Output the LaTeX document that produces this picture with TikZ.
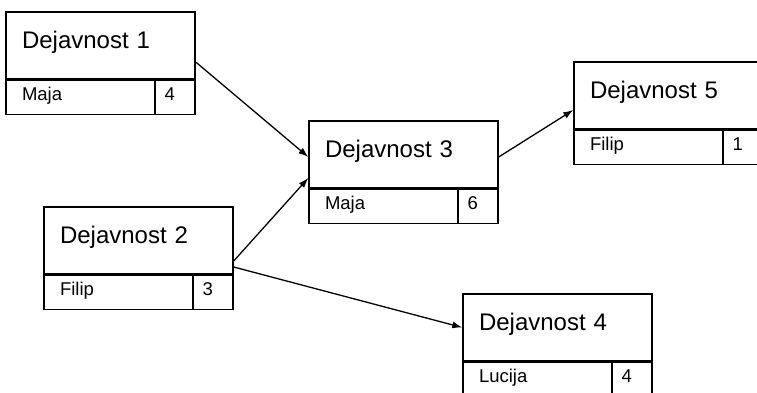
\documentclass[tikz,border=0pt]{standalone}
\usepackage{fontspec}
\setmainfont{Liberation Sans}
\usetikzlibrary{arrows.meta}
\begin{document}
\begin{tikzpicture}[x=1pt,y=-1pt,
  hdr/.style={draw,line width=1.4pt,minimum height=67pt,inner xsep=16pt,inner ysep=0pt,
    text width=157pt,align=left,font=\fontsize{24}{27}\selectfont,text height=0.8em,text depth=0.25em},
  who/.style={draw,line width=1.4pt,minimum height=34pt,inner xsep=16pt,inner ysep=0pt,
    text width=117pt,align=left,anchor=north west,font=\fontsize{18.5}{21}\selectfont,text height=0.8em,text depth=0.1em},
  dur/.style={draw,line width=1.4pt,minimum height=34pt,inner xsep=9.5pt,inner ysep=0pt,
    text width=21pt,align=left,anchor=north east,font=\fontsize{18.5}{21}\selectfont,text height=0.8em,text depth=0.1em},
  link/.style={line width=1.3pt,-{Latex[length=10pt,width=7pt]}}]
\useasboundingbox (0,0) rectangle (757,393);
\clip (0,0) rectangle (757,393);
% box 1
\node[hdr] (h1) at (100.5,45.5) {Dejavnost 1};
\node[who] (w1) at (h1.south west) {Maja};
\node[dur] (t1) at (h1.south east) {4};
% box 2
\node[hdr] (h2) at (138.5,240.5) {Dejavnost 2};
\node[who] (w2) at (h2.south west) {Filip};
\node[dur] (t2) at (h2.south east) {3};
% box 3
\node[hdr] (h3) at (403.5,154.5) {Dejavnost 3};
\node[who] (w3) at (h3.south west) {Maja};
\node[dur] (t3) at (h3.south east) {6};
% box 4
\node[hdr] (h4) at (557.5,327.5) {Dejavnost 4};
\node[who] (w4) at (h4.south west) {Lucija};
\node[dur] (t4) at (h4.south east) {4};
% box 5
\node[hdr] (h5) at (668.5,95.5) {Dejavnost 5};
\node[who] (w5) at (h5.south west) {Filip};
\node[dur] (t5) at (h5.south east) {1};
% connectors
\draw[link] ([yshift=-16.5pt]h1.east) -- ([yshift=-2.5pt]h3.west);
\draw[link] ([yshift=-20.5pt]h2.east) -- ([yshift=-23.5pt]h3.west);
\draw[link] ([yshift=-26.5pt]h2.east) -- (h4.west);
\draw[link] ([yshift=-2.5pt]h3.east) -- ([yshift=-14.5pt]h5.west);
\end{tikzpicture}
\end{document}
